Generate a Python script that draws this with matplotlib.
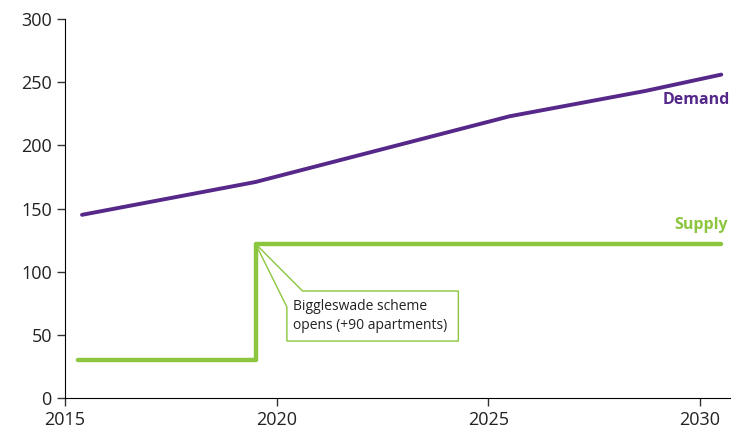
import matplotlib.pyplot as plt
from matplotlib.patches import Polygon

plt.rcParams['font.family'] = ['Open Sans', 'DejaVu Sans']

# demand values
demand_years = [2015.4, 2019.5, 2025.5, 2028.7, 2030.5]
demand = [145, 171, 223, 243, 256]

# supply steps
supply_years = [2015.3, 2019.5, 2019.5, 2030.5]
supply = [30, 30, 122, 122]

purple = '#55288a'
green = '#8cc63f'

fig = plt.figure(figsize=(7.31, 4.3), dpi=100)
ax = fig.add_axes([0.089, 0.0744, 0.911, 0.8814])

ax.plot(demand_years, demand, color=purple, lw=2.8, solid_capstyle='round')
ax.plot(supply_years, supply, color=green, lw=3.2, solid_capstyle='round')

# callout box
callout = [(2019.5, 122), (2020.61, 84.7), (2024.29, 84.7), (2024.29, 45.1),
           (2020.24, 45.1), (2020.24, 72)]
ax.add_patch(Polygon(callout, closed=True, facecolor='white', edgecolor=green,
                     lw=1.0, zorder=3))
ax.text(2020.38, 65, 'Biggleswade scheme\nopens (+90 apartments)', fontsize=10,
        va='center', ha='left', linespacing=1.4, zorder=4, color='#222222')

ax.text(2030.7, 236, 'Demand', color=purple, fontweight='bold', fontsize=11.5,
        ha='right', va='center')
ax.text(2030.65, 137, 'Supply', color=green, fontweight='bold', fontsize=11.5,
        ha='right', va='center')

ax.set_xlim(2015, 2030.73)
ax.set_ylim(0, 300)
ax.set_xticks([2015, 2020, 2025, 2030])
ax.set_yticks(range(0, 301, 50))
ax.spines['top'].set_visible(False)
ax.spines['right'].set_visible(False)
ax.tick_params(labelsize=13, length=6, width=1, color='#333333', labelcolor='#222222')

fig.savefig('out.png', dpi=100)
